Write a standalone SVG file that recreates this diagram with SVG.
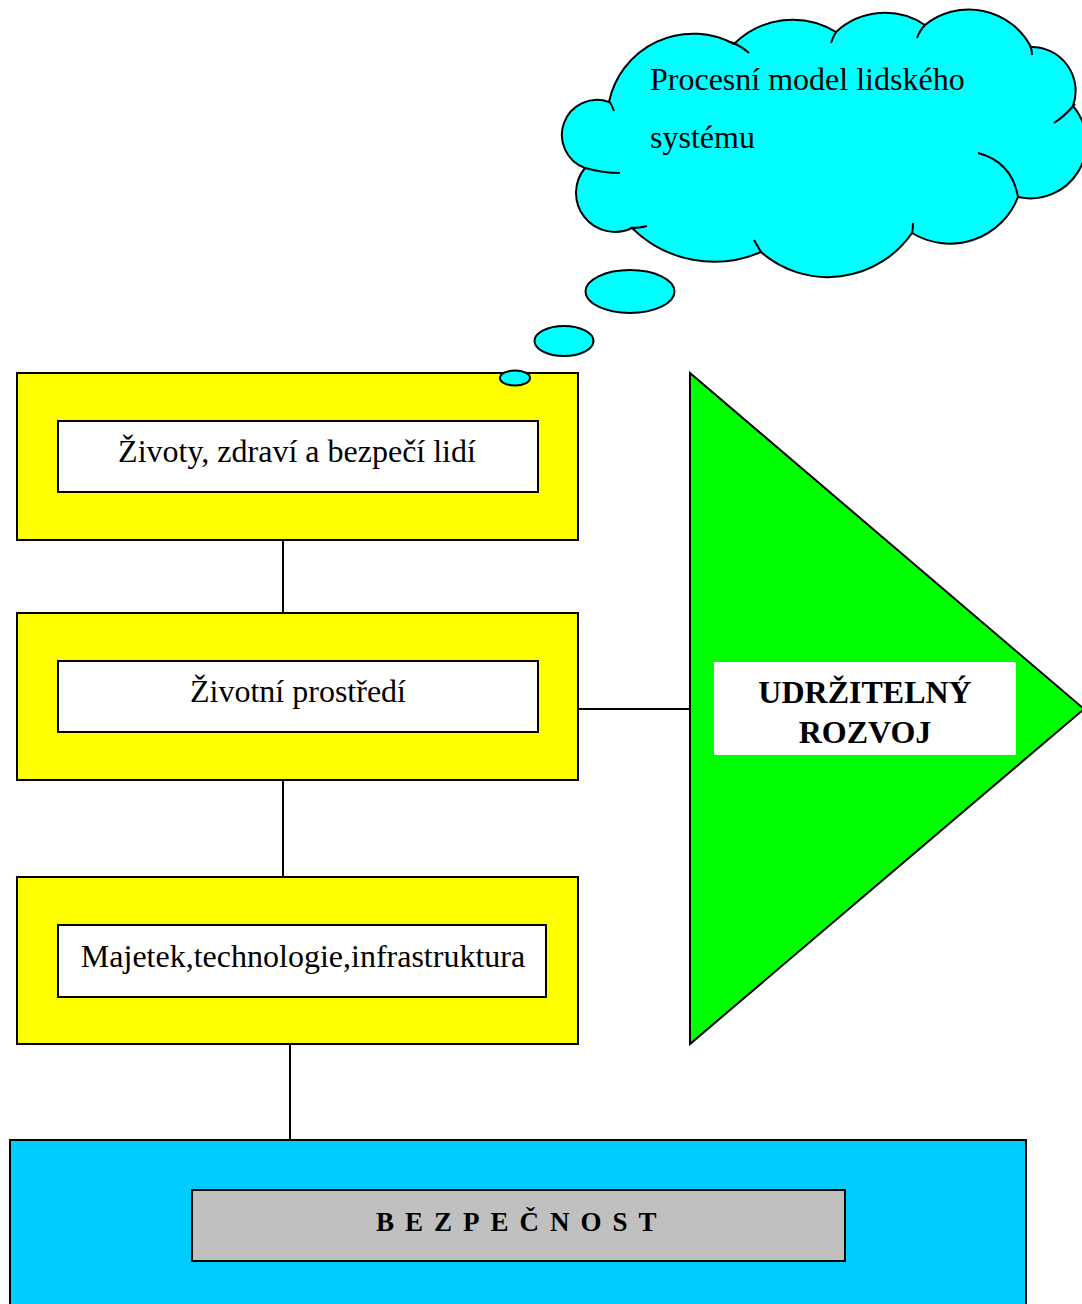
<svg xmlns="http://www.w3.org/2000/svg" width="1082" height="1304" viewBox="0 0 1082 1304">
<style>
.frame{fill:#FFFF00;stroke:#000;stroke-width:2}
.inner{fill:#FFFFFF;stroke:#000;stroke-width:2}
.lbl{font-family:"Liberation Serif","Times New Roman",serif;font-size:32px;fill:#000;text-anchor:middle}
.big{font-family:"Liberation Serif","Times New Roman",serif;font-size:32px;font-weight:bold;fill:#000;text-anchor:middle}
.ct{font-family:"Liberation Serif","Times New Roman",serif;font-size:32px;fill:#000}
.cl{fill:#00FFFF;stroke:#000;stroke-width:2}
.stub{fill:none;stroke:#000;stroke-width:2}
.conn{stroke:#000;stroke-width:2;fill:none}
</style>
<rect width="1082" height="1304" fill="#FFFFFF"/>
<g id="connectors">
<line class="conn" x1="283" y1="540" x2="283" y2="613"/>
<line class="conn" x1="283" y1="780" x2="283" y2="877"/>
<line class="conn" x1="290" y1="1044" x2="290" y2="1140"/>
<line class="conn" x1="578" y1="709" x2="690" y2="709"/>
</g>
<g id="cloud">
<path class="cl" d="M609,102 A86,86 0 0 1 734,44 A83,83 0 0 1 836,32 A72,72 0 0 1 925,25 A70,70 0 0 1 1031,47 A44,44 0 0 1 1073,106 A56,56 0 0 1 1018,197 A73,73 0 0 1 912,233 A102,102 0 0 1 761,252 A117,117 0 0 1 632,228 A39,39 0 0 1 585,168 A35,35 0 0 1 609,102 Z"/>
<path class="stub" d="M609,101 Q612,105 614,111 M731,42 Q741,46 749,53 M836,32 Q833,37 831,43 M925,25 Q920,30 917,38 M1030,45 Q1032,50 1032,55 M1075,104 Q1065,116 1054,123 M1018,197 Q1012,162 978,153 M912,234 Q913,229 913,223 M761,252 Q757,245 754,240 M630,228 Q640,228 647,226 M585,168 Q603,173 620,173"/>
<ellipse class="cl" cx="630" cy="291.5" rx="44.5" ry="21.5"/>
<ellipse class="cl" cx="564" cy="341" rx="29.5" ry="15"/>
<text class="ct" x="650" y="90">Procesní model lidského</text>
<text class="ct" x="650" y="148">systému</text>
</g>
<g id="box1">
<rect class="frame" x="17" y="373" width="561" height="167"/>
<rect class="inner" x="58" y="421" width="480" height="71"/>
<text class="lbl" x="297" y="462">Životy, zdraví a bezpečí lidí</text>
</g>
<ellipse class="cl" cx="515" cy="378" rx="15" ry="7.5"/>
<g id="box2">
<rect class="frame" x="17" y="613" width="561" height="167"/>
<rect class="inner" x="58" y="661" width="480" height="71"/>
<text class="lbl" x="298" y="702">Životní prostředí</text>
</g>
<g id="box3">
<rect class="frame" x="17" y="877" width="561" height="167"/>
<rect class="inner" x="58" y="925" width="488" height="72"/>
<text class="lbl" x="303" y="967">Majetek,technologie,infrastruktura</text>
</g>
<g id="rozvoj">
<polygon points="690,373 1084,709 690,1044" fill="#00FF00" stroke="#000" stroke-width="2"/>
<rect x="714" y="662" width="302" height="93" fill="#FFFFFF"/>
<text class="big" x="865" y="703">UDRŽITELNÝ</text>
<text class="big" x="865" y="743">ROZVOJ</text>
</g>
<g id="bezpecnost">
<rect x="10" y="1140" width="1016" height="180" fill="#00CCFF" stroke="#000" stroke-width="2"/>
<rect x="192" y="1190" width="653" height="71" fill="#C0C0C0" stroke="#000" stroke-width="2"/>
<text font-family="Liberation Serif, Times New Roman, serif" font-size="27" font-weight="bold" letter-spacing="11" x="376" y="1231">BEZPEČNOST</text>
</g>
</svg>
